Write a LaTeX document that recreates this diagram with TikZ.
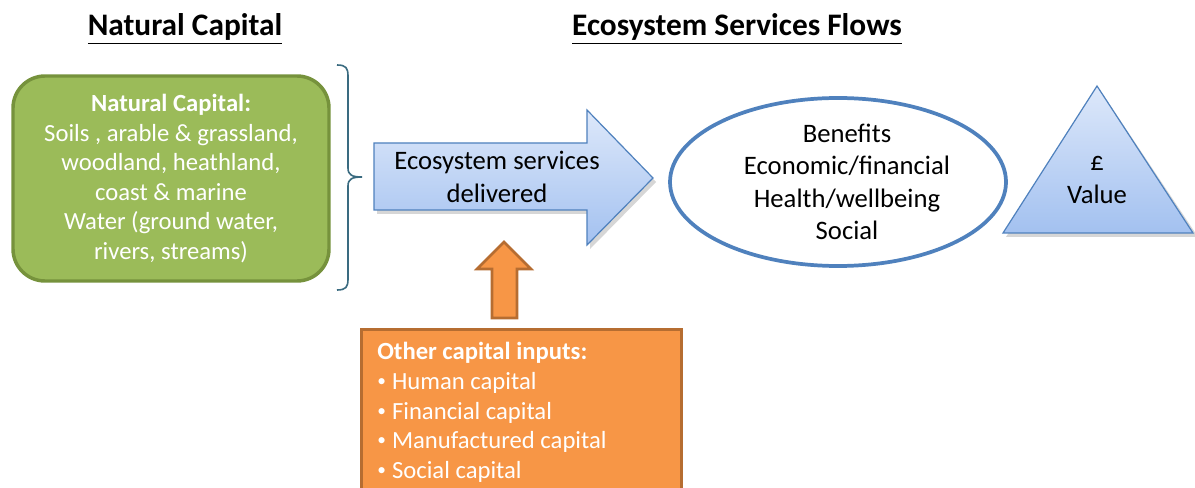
\documentclass[tikz,border=0pt]{standalone}
\usepackage{fontspec}
\setmainfont{Carlito}
\usetikzlibrary{calc,shapes.geometric}
\definecolor{ngreen}{HTML}{9BBB59}
\definecolor{ngreenline}{HTML}{76923C}
\definecolor{sblue}{HTML}{4F81BD}
\definecolor{sbluetop}{HTML}{DDE8FA}
\definecolor{sbluebot}{HTML}{A3C1F0}
\definecolor{oorange}{HTML}{F79646}
\definecolor{oorangeline}{HTML}{B66D31}
\definecolor{bracecol}{HTML}{3A6B80}
\newcommand\smallbullet{\raisebox{0.12em}{\fontsize{13}{13}\selectfont•}\hspace{0.25em}}
\tikzset{
  heading/.style={font=\fontsize{23.5}{28}\selectfont\bfseries, anchor=base},
  body/.style={font=\fontsize{18.5}{22.1}\selectfont, align=center},
  bigbody/.style={font=\fontsize{20}{24.3}\selectfont, align=center},
  shade blue/.style={top color=sbluetop, bottom color=sbluebot, draw=sblue, line width=0.9pt, line join=miter},
  softshadow/.style={fill=black!16, draw=none},
}
\begin{document}
\begin{tikzpicture}[x=0.75pt, y=-0.75pt]
\clip (0,0) rectangle (1195,488);
\fill[white] (0,0) rectangle (1195,488);

% headings
\node[heading] (hnc) at (185,36) {\underline{Natural Capital}};
\node[heading] (hes) at (737,36) {\underline{Ecosystem Services Flows}};

% natural capital stock
\node[draw=ngreenline, line width=2.6pt, fill=ngreen, rounded corners=24pt,
      minimum width=316*0.75pt, minimum height=205*0.75pt, text=white, body]
  (nc) at (171,178.5)
  {\textbf{Natural Capital:}\\Soils , arable \& grassland,\\woodland, heathland,\\coast \& marine\\Water (ground water,\\rivers, streams)};

% brace grouping the stock
\draw[bracecol, line width=1.2pt]
  (337,65) .. controls (346,65) and (348,68) .. (348,76)
  -- (348,168) .. controls (348,175) and (352,177) .. (362,177)
  .. controls (352,177) and (348,179) .. (348,186)
  -- (348,279) .. controls (348,287) and (346,290) .. (337,290);

% services arrow (shadow, then body)
\fill[softshadow] (377,147) -- (590,147) -- (590,114) -- (656,182) -- (590,249) -- (590,214) -- (377,214) -- cycle;
\draw[shade blue] (374,143) -- (587,143) -- (587,110) -- (653,178) -- (587,245) -- (587,210) -- (374,210) -- cycle;
\node[bigbody] (es) at (497,177) {Ecosystem services\\delivered};

% other inputs arrow
\draw[fill=oorange, draw=oorangeline, line width=2pt, line join=miter]
  (492,318) -- (492,269) -- (477,269) -- (504,242) -- (531,269) -- (517,269) -- (517,318) -- cycle;

% other capital inputs box
\node[draw=oorangeline, line width=2.6pt, fill=oorange, anchor=north west,
      minimum width=320*0.75pt, minimum height=190*0.75pt] (inputs) at (360,328) {};
\node[anchor=north west, align=left, text=white, font=\fontsize{18.5}{22.3}\selectfont, inner sep=0pt]
  (inputstext) at (377,342)
  {\textbf{Other capital inputs:}\\\smallbullet Human capital\\\smallbullet Financial capital\\\smallbullet Manufactured capital\\\smallbullet Social capital};

% benefits
\node[draw=sblue, line width=2.8pt, fill=white, ellipse, minimum width=336*0.75pt, minimum height=168*0.75pt,
      inner sep=0pt] (ben) at (838,182) {};
\node[bigbody] (bentext) at (847,182) {Benefits\\Economic/financial\\Health/wellbeing\\Social};

% value triangle
\fill[softshadow] (1100,90) -- (1198,237) -- (1006,237) -- cycle;
\draw[shade blue] (1097,86) -- (1193,233) -- (1003,233) -- cycle;
\node[bigbody] (val) at (1097,180) {£\\Value};
\end{tikzpicture}
\end{document}
